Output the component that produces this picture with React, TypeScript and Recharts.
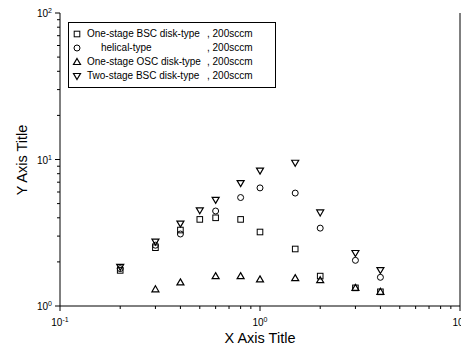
import React from 'react';
import { ScatterChart, Scatter, XAxis, YAxis } from 'recharts';

const xTicks = [0.1, 0.2, 0.3, 0.4, 0.5, 0.6, 0.7, 0.8, 0.9, 1, 2, 3, 4, 5, 6, 7, 8, 9, 10];
const yTicks = [1, 2, 3, 4, 5, 6, 7, 8, 9, 10, 20, 30, 40, 50, 60, 70, 80, 90, 100];
const majorX: Record<number, string> = { 0.1: '-1', 1: '0', 10: '1' };
const majorY: Record<number, string> = { 1: '0', 10: '1', 100: '2' };

// flow rates (x) and measured values per series
const bscX = [0.2, 0.3, 0.4, 0.5, 0.6, 0.8, 1.0, 1.5, 2.0, 3.0, 4.0];
const bscY = [1.75, 2.5, 3.3, 3.9, 4.0, 3.9, 3.2, 2.45, 1.6, 1.33, 1.25];
const helicalX = [0.2, 0.3, 0.4, 0.6, 0.8, 1.0, 1.5, 2.0, 3.0, 4.0];
const helicalY = [1.8, 2.6, 3.1, 4.45, 5.5, 6.4, 5.9, 3.4, 2.05, 1.57];
const oscX = [0.3, 0.4, 0.6, 0.8, 1.0, 1.5, 2.0, 3.0, 4.0];
const oscY = [1.3, 1.45, 1.6, 1.6, 1.52, 1.55, 1.5, 1.33, 1.25];
const twoX = [0.2, 0.3, 0.4, 0.5, 0.6, 0.8, 1.0, 1.5, 2.0, 3.0, 4.0];
const twoY = [1.85, 2.75, 3.65, 4.5, 5.3, 6.9, 8.4, 9.5, 4.35, 2.3, 1.76];

const zip = (xs: number[], ys: number[]) => xs.map((x, i) => ({ x, y: ys[i] }));

const FONT = '"Liberation Sans", Arial, sans-serif';

const Square = ({ cx, cy }: any) => <rect x={cx - 2.8} y={cy - 2.8} width={5.6} height={5.6} fill="none" stroke="#000" strokeWidth={1} />;
const Circle = ({ cx, cy }: any) => <circle cx={cx} cy={cy} r={3} fill="none" stroke="#000" strokeWidth={1} />;
const TriUp = ({ cx, cy }: any) => (
    <path d={`M${cx},${cy - 3.5} L${cx + 3.5},${cy + 2.5} L${cx - 3.5},${cy + 2.5} Z`} fill="none" stroke="#000" strokeWidth={1.2} />
);
const TriDown = ({ cx, cy }: any) => (
    <path d={`M${cx},${cy + 3.5} L${cx + 3.5},${cy - 2.5} L${cx - 3.5},${cy - 2.5} Z`} fill="none" stroke="#000" strokeWidth={1.2} />
);

const XTick = ({ x, y, payload }: any) => {
    const exp = majorX[payload.value];
    const len = exp !== undefined ? 5 : 3;
    return (
        <g>
            <line x1={x} y1={y} x2={x} y2={y + len} stroke="#000" />
            {exp !== undefined && (
                <text x={x} y={y + 20} textAnchor="middle" fontFamily={FONT} fontSize={10} fill="#000">
                    10<tspan dy={-4} fontSize={7}>{exp}</tspan>
                </text>
            )}
        </g>
    );
};

const YTick = ({ x, y, payload }: any) => {
    const exp = majorY[payload.value];
    const len = exp !== undefined ? 5 : 3;
    return (
        <g>
            <line x1={x} y1={y} x2={x - len} y2={y} stroke="#000" />
            {exp !== undefined && (
                <text x={x - 8} y={y + 4} textAnchor="end" fontFamily={FONT} fontSize={10} fill="#000">
                    10<tspan dy={-4} fontSize={7}>{exp}</tspan>
                </text>
            )}
        </g>
    );
};

const legendRows = [
    { name: 'One-stage BSC disk-type', indent: 0, Mark: Square },
    { name: 'helical-type', indent: 14, Mark: Circle },
    { name: 'One-stage OSC disk-type', indent: 0, Mark: TriUp },
    { name: 'Two-stage BSC disk-type', indent: 0, Mark: TriDown },
];

export default function App() {
    return (
        <div style={{ position: 'relative', width: 469, height: 354, margin: -8, background: '#fff', fontFamily: FONT }}>
            <ScatterChart width={469} height={354} margin={{ top: 13, right: 0, left: 0, bottom: 0 }}>
                <XAxis
                    dataKey="x"
                    type="number"
                    scale="log"
                    domain={[0.1, 10]}
                    ticks={xTicks}
                    interval={0}
                    height={48}
                    tickSize={0}
                    tickMargin={0}
                    tickLine={false}
                    tick={<XTick />}
                    axisLine={{ stroke: '#000' }}
                    allowDataOverflow
                />
                <XAxis xAxisId="top" orientation="top" type="number" scale="log" domain={[0.1, 10]} height={0} tick={false} tickLine={false} axisLine={{ stroke: '#000' }} />
                <YAxis
                    dataKey="y"
                    type="number"
                    scale="log"
                    domain={[1, 100]}
                    ticks={yTicks}
                    interval={0}
                    width={60}
                    tickSize={0}
                    tickMargin={0}
                    tickLine={false}
                    tick={<YTick />}
                    axisLine={{ stroke: '#000' }}
                    allowDataOverflow
                />
                <YAxis yAxisId="r" orientation="right" type="number" scale="log" domain={[1, 100]} width={9} tick={false} tickLine={false} axisLine={{ stroke: '#000' }} />
                <Scatter data={zip(bscX, bscY)} shape={<Square />} isAnimationActive={false} />
                <Scatter data={zip(helicalX, helicalY)} shape={<Circle />} isAnimationActive={false} />
                <Scatter data={zip(oscX, oscY)} shape={<TriUp />} isAnimationActive={false} />
                <Scatter data={zip(twoX, twoY)} shape={<TriDown />} isAnimationActive={false} />
            </ScatterChart>

            <div style={{ position: 'absolute', left: 68, top: 22, width: 208, height: 66, border: '1px solid #000', boxSizing: 'border-box', padding: '4px 0 0 0' }}>
                {legendRows.map(({ name, indent, Mark }) => (
                    <div key={name} style={{ display: 'flex', alignItems: 'center', height: 14, fontSize: 10, lineHeight: '14px' }}>
                        <svg width={10} height={10} style={{ marginLeft: 3, marginRight: 5 }}>
                            <Mark cx={5} cy={5} />
                        </svg>
                        <span style={{ width: 120, paddingLeft: indent, whiteSpace: 'nowrap', boxSizing: 'border-box' }}>{name}</span>
                        <span style={{ whiteSpace: 'nowrap' }}>, 200sccm</span>
                    </div>
                ))}
            </div>

            <div style={{ position: 'absolute', left: 0, top: 330, width: 520, textAlign: 'center', fontSize: 14.5 }}>X Axis Title</div>
            <div style={{ position: 'absolute', left: 22, top: 160, transform: 'translate(-50%, -50%) rotate(-90deg)', fontSize: 14.5, whiteSpace: 'nowrap' }}>Y Axis Title</div>
        </div>
    );
}
